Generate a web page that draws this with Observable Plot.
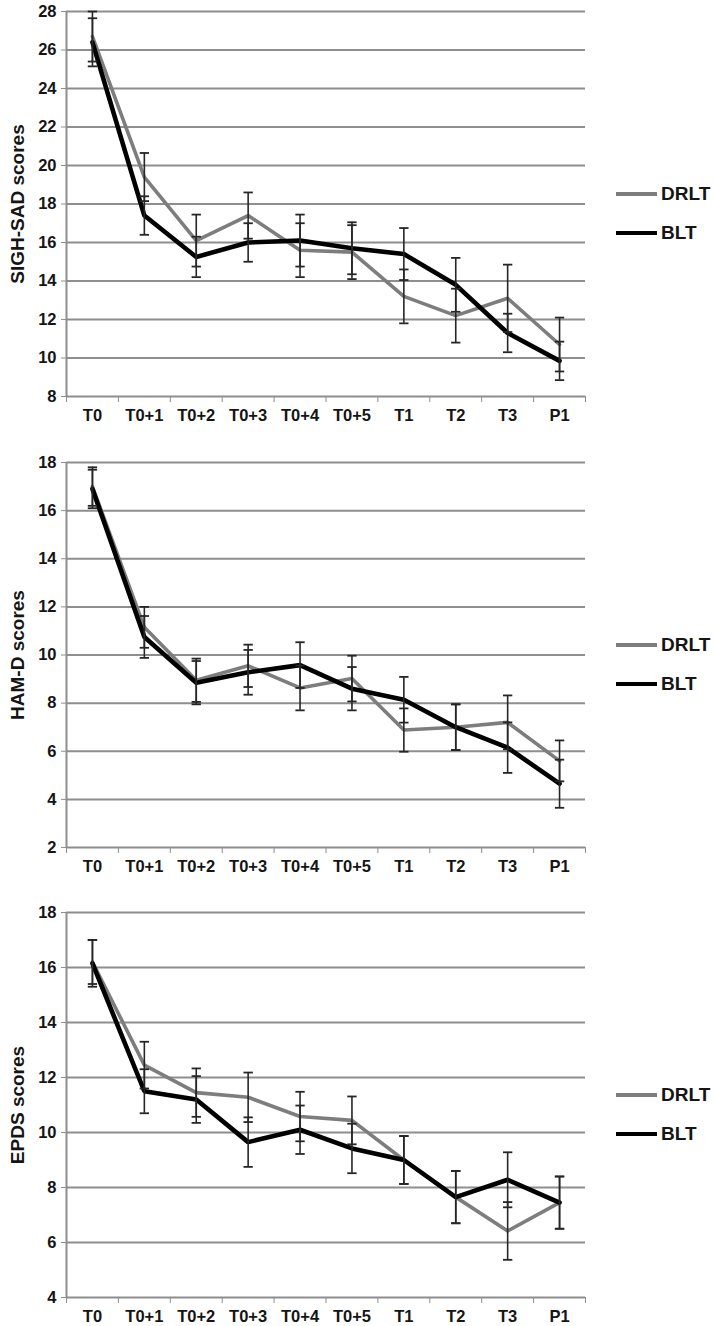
<!DOCTYPE html>
<html>
<head>
<meta charset="utf-8">
<script src="https://cdn.jsdelivr.net/npm/d3@7"></script>
<script src="https://cdn.jsdelivr.net/npm/@observablehq/plot@0.6"></script>
<style>
  body { margin: 0; background: #fff; }
  .panel { position: relative; width: 714px; }
  .panel svg { display: block; }
  .leg { position: absolute; left: 616px; display: flex; align-items: center; font-family: "Liberation Sans Narrow", "Liberation Sans", Arial, sans-serif; font-weight: bold; font-size: 19px; color: #151515; }
  .leg span.sw { display: inline-block; width: 41px; margin-right: 4px; }
</style>
</head>
<body>
<div id="chart"></div>
<script>
// ---- data ----
const timepoints = ["T0", "T0+1", "T0+2", "T0+3", "T0+4", "T0+5", "T1", "T2", "T3", "P1"];
const seriesNames = ["DRLT", "BLT"];

const sighsadLabel = "SIGH-SAD scores";
const sighsadTicks = [8, 10, 12, 14, 16, 18, 20, 22, 24, 26, 28];
const sighsadDRLT    = [26.7, 19.4, 16.1, 17.4, 15.6, 15.5, 13.2, 12.2, 13.1, 10.7];
const sighsadDRLTErr = [1.3, 1.25, 1.35, 1.2, 1.4, 1.4, 1.4, 1.4, 1.75, 1.4];
const sighsadBLT     = [26.4, 17.4, 15.25, 16.0, 16.1, 15.7, 15.4, 13.8, 11.3, 9.85];
const sighsadBLTErr  = [1.25, 1.0, 1.05, 1.0, 1.35, 1.35, 1.35, 1.4, 1.0, 1.0];

const hamdLabel = "HAM-D scores";
const hamdTicks = [2, 4, 6, 8, 10, 12, 14, 16, 18];
const hamdDRLT    = [17.0, 11.15, 8.95, 9.55, 8.63, 9.02, 6.88, 7.0, 7.2, 5.6];
const hamdDRLTErr = [0.8, 0.85, 0.9, 0.88, 0.93, 0.95, 0.9, 0.95, 1.12, 0.85];
const hamdBLT     = [16.9, 10.75, 8.85, 9.28, 9.58, 8.6, 8.14, 7.0, 6.15, 4.65];
const hamdBLTErr  = [0.8, 0.87, 0.9, 0.93, 0.95, 0.9, 0.95, 0.95, 1.05, 1.0];

const epdsLabel = "EPDS scores";
const epdsTicks = [4, 6, 8, 10, 12, 14, 16, 18];
const epdsDRLT    = [16.2, 12.45, 11.45, 11.28, 10.58, 10.44, 9.0, 7.65, 6.42, 7.45];
const epdsDRLTErr = [0.8, 0.85, 0.88, 0.9, 0.9, 0.87, 0.87, 0.95, 1.05, 0.95];
const epdsBLT     = [16.15, 11.5, 11.2, 9.65, 10.1, 9.42, 9.0, 7.65, 8.28, 7.45];
const epdsBLTErr  = [0.85, 0.8, 0.85, 0.9, 0.88, 0.9, 0.87, 0.95, 1.0, 0.95];

// ---- styles ----
const seriesColors = {DRLT: "#7d7d7d", BLT: "#000000"};
const seriesWidths = {DRLT: 3.6, BLT: 4.6};
const gridColor = "#8e8e8e";
const textColor = "#151515";
const narrow = '"Liberation Sans Narrow", "Liberation Sans", Arial, sans-serif';
const regular = '"Liberation Sans", Arial, sans-serif';

const panels = [
  {label: sighsadLabel, ticks: sighsadTicks, DRLT: sighsadDRLT, DRLTErr: sighsadDRLTErr, BLT: sighsadBLT, BLTErr: sighsadBLTErr, height: 451, marginBottom: 55},
  {label: hamdLabel, ticks: hamdTicks, DRLT: hamdDRLT, DRLTErr: hamdDRLTErr, BLT: hamdBLT, BLTErr: hamdBLTErr, height: 450, marginBottom: 54},
  {label: epdsLabel, ticks: epdsTicks, DRLT: epdsDRLT, DRLTErr: epdsDRLTErr, BLT: epdsBLT, BLTErr: epdsBLTErr, height: 425, marginBottom: 29}
];

const capHalf = 0.09;
const idx = d3.range(timepoints.length);
const boundaries = d3.range(timepoints.length + 1).map(i => i - 0.5);

const root = document.getElementById("chart");

for (const p of panels) {
  const rows = [];
  for (const s of seriesNames) {
    p[s].forEach((v, i) => rows.push({series: s, i, v, lo: v - p[s + "Err"][i], hi: v + p[s + "Err"][i]}));
  }
  const yMin = d3.min(p.ticks), yMax = d3.max(p.ticks);

  const chart = Plot.plot({
    width: 714,
    height: p.height,
    marginLeft: 66,
    marginRight: 129,
    marginTop: 11,
    marginBottom: p.marginBottom,
    style: {background: "transparent", color: textColor, fontFamily: regular},
    x: {domain: [-0.5, timepoints.length - 0.5]},
    y: {domain: [yMin, yMax]},
    marks: [
      Plot.gridY(p.ticks, {stroke: gridColor, strokeOpacity: 1, strokeWidth: 2}),
      Plot.ruleX([-0.5], {stroke: gridColor, strokeWidth: 2}),
      Plot.axisY({ticks: p.ticks, tickSize: 5, tickPadding: 5, stroke: gridColor, fontSize: 16.5, fontWeight: "bold", label: null}),
      Plot.axisX({ticks: boundaries, tickSize: 6, tickFormat: () => "", stroke: gridColor, label: null}),
      Plot.axisX({ticks: idx, tickSize: 0, tickPadding: 13, tickFormat: i => timepoints[i], fontSize: 16.5, fontWeight: "bold", fontFamily: narrow, label: null}),
      Plot.text([p.label], {frameAnchor: "left", textAnchor: "middle", rotate: -90, dx: -49, fontSize: 19, fontWeight: "bold", fill: textColor}),
      ...seriesNames.map(s => Plot.line(rows.filter(r => r.series === s), {x: "i", y: "v", stroke: seriesColors[s], strokeWidth: seriesWidths[s], strokeLinejoin: "miter"})),
      Plot.ruleX(rows, {x: "i", y1: "lo", y2: "hi", stroke: "#262626", strokeWidth: 1.6}),
      Plot.link(rows, {x1: d => d.i - capHalf, x2: d => d.i + capHalf, y1: "lo", y2: "lo", stroke: "#262626", strokeWidth: 1.8}),
      Plot.link(rows, {x1: d => d.i - capHalf, x2: d => d.i + capHalf, y1: "hi", y2: "hi", stroke: "#262626", strokeWidth: 1.8})
    ]
  });

  const div = document.createElement("div");
  div.className = "panel";
  div.appendChild(chart);
  const legTops = [194, 233];
  seriesNames.forEach((s, k) => {
    const item = document.createElement("div");
    item.className = "leg";
    item.style.top = (legTops[k] - 11) + "px";
    item.style.height = "22px";
    const sw = document.createElement("span");
    sw.className = "sw";
    sw.style.height = seriesWidths[s] + "px";
    sw.style.background = seriesColors[s];
    item.appendChild(sw);
    item.appendChild(document.createTextNode(s));
    div.appendChild(item);
  });
  root.appendChild(div);
}
</script>
</body>
</html>
